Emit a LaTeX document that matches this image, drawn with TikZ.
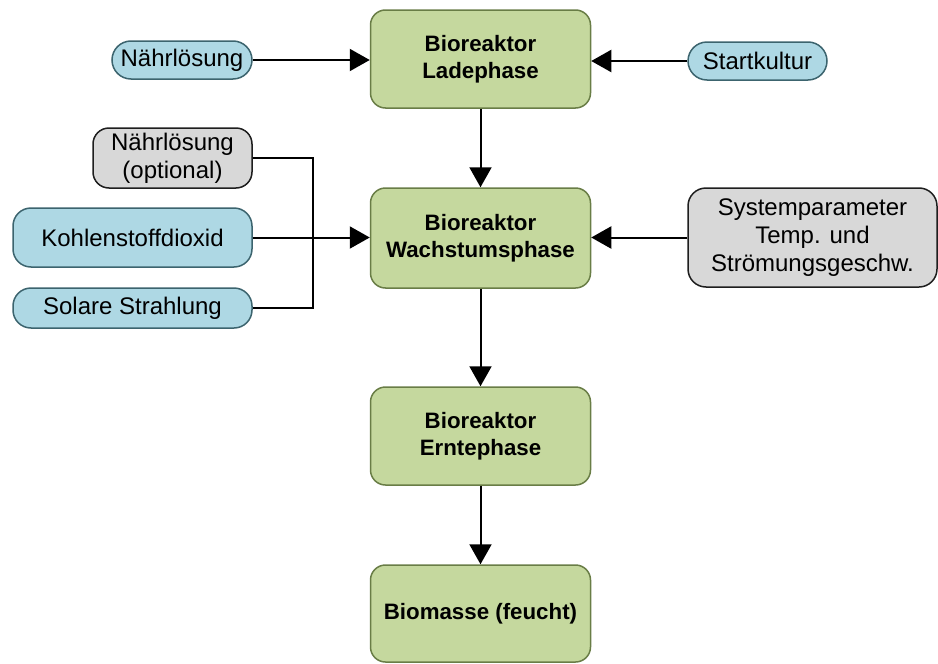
\documentclass[tikz,border=0pt]{standalone}
\usepackage{fontspec}
\setmainfont{Liberation Sans}
\usetikzlibrary{arrows.meta}
\definecolor{gfill}{RGB}{197,216,158}
\definecolor{gdraw}{RGB}{105,125,70}
\definecolor{bfill}{RGB}{174,216,228}
\definecolor{bdraw}{RGB}{60,100,110}
\definecolor{yfill}{RGB}{216,216,216}
\definecolor{ydraw}{RGB}{30,30,30}
\tikzset{
  greenbox/.style={draw=gdraw, fill=gfill, line width=1.5pt, rounded corners=15pt,
    minimum width=220pt, align=center, inner sep=0pt, font=\fontsize{22.3}{27.5}\selectfont\bfseries},
  bluebox/.style={draw=bdraw, fill=bfill, line width=1.5pt, align=center, inner sep=0pt,
    font=\fontsize{24}{27}\selectfont},
  graybox/.style={draw=ydraw, fill=yfill, line width=1.5pt, align=center, inner sep=0pt,
    font=\fontsize{24}{28}\selectfont},
  conn/.style={line width=2pt, -{Triangle[length=20pt,width=22pt]}},
  plain/.style={line width=2pt},
}
\begin{document}
\begin{tikzpicture}[x=1pt,y=-1pt]
\useasboundingbox (0,0) rectangle (938,664);
\node[greenbox, minimum height=98pt] (b1) at (480.5,59) {Bioreaktor\\Ladephase};
\node[greenbox, minimum height=100pt] (b2) at (480.5,238) {Bioreaktor\\Wachstumsphase};
\node[greenbox, minimum height=98pt] (b3) at (480.5,436) {Bioreaktor\\Erntephase};
\node[greenbox, minimum height=97pt] (b4) at (480.5,613.5) {Biomasse (feucht)};
\node[bluebox, rounded corners=19pt, minimum width=140pt, minimum height=38pt] (n1) at (182,60) {Nährlösung};
\node[bluebox, rounded corners=19pt, minimum width=139pt, minimum height=38pt] (sk) at (757.5,61) {Startkultur};
\node[graybox, rounded corners=16pt, minimum width=159pt, minimum height=60pt] (opt) at (172.5,158) {Nährlösung\\(optional)};
\node[bluebox, rounded corners=18pt, minimum width=239pt, minimum height=59pt] (co2) at (132.5,237.5) {Kohlenstoffdioxid};
\node[bluebox, rounded corners=18pt, minimum width=239pt, minimum height=40pt] (sol) at (132.5,308) {Solare Strahlung};
\node[graybox, rounded corners=18pt, minimum width=249pt, minimum height=99pt] (sys) at (812.5,237.5) {Systemparameter\\Temp. und\\Strömungsgeschw.};
\draw[conn] (n1.east) -- (b1.west |- n1.east);
\draw[conn] (sk.west) -- (b1.east |- sk.west);
\draw[conn] (b1.south) -- (b2.north);
\draw[conn] (co2.east) -- (b2.west |- co2.east);
\draw[conn] (sys.west) -- (b2.east |- sys.west);
\draw[conn] (b2.south) -- (b3.north);
\draw[conn] (b3.south) -- (b4.north);
\draw[plain] (opt.east) -- ++(60,0) |- (sol.east);
\end{tikzpicture}
\end{document}
